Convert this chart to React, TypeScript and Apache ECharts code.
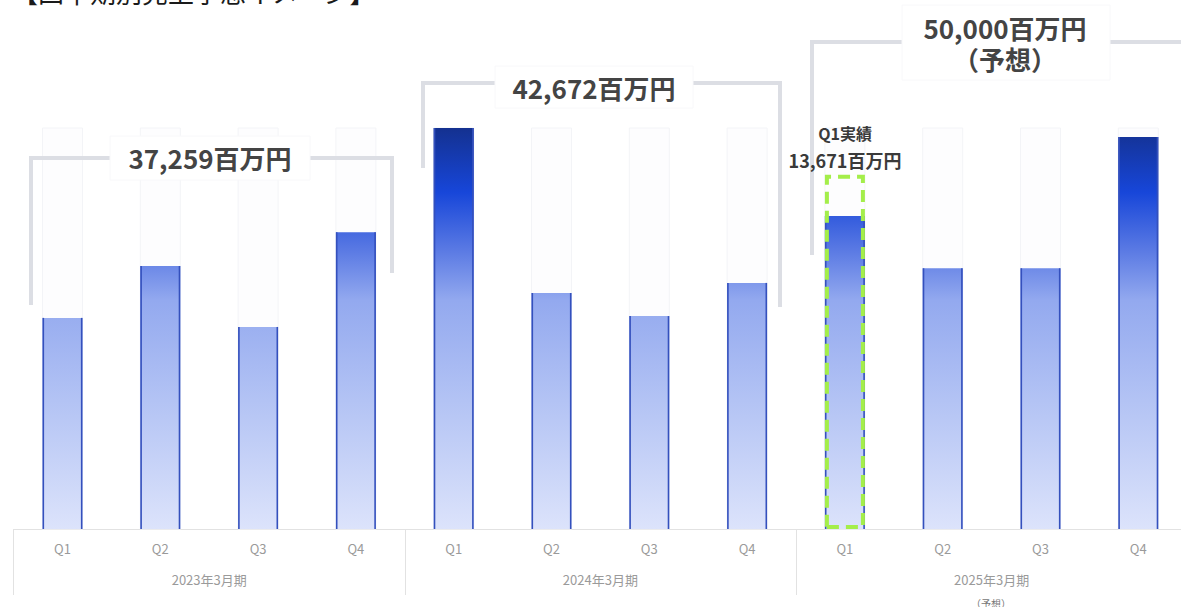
import React, { useEffect, useRef } from "react";
import * as echarts from "echarts";

const quarters = ["Q1", "Q2", "Q3", "Q4"];
const periods = ["2023年3月期", "2024年3月期", "2025年3月期"];
const sales2023 = [8150, 10150, 7800, 11460];
const sales2024 = [15480, 9110, 8220, 9500];
const forecast2025 = [12080, 10070, 10070, 15130];
const q1Actual2025 = 13671;
const annualTotals = ["37,259百万円", "42,672百万円", "50,000百万円"];
const forecastNote = "（予想）";
const actualLabel = ["Q1実績", "13,671百万円"];
const titleText = "【四半期別売上予想イメージ】";

const FONT = "'Noto Sans CJK JP', 'Noto Sans', sans-serif";

export default function App() {
  const ref = useRef<HTMLDivElement>(null);

  useEffect(() => {
    const chart = echarts.init(ref.current!, null, { renderer: "svg" });
    const categories = [...quarters, ...quarters, ...quarters];
    const values = [...sales2023, ...sales2024, ...forecast2025];
    const actual = values.map((_, i) => (i === 8 ? q1Actual2025 : null));
    const yMax = Math.max(...values);
    const barW = 40;

    const gridTop = 128;
    const gridBottomPx = 529;
    const gradient = new echarts.graphic.LinearGradient(
      0,
      gridTop,
      0,
      gridBottomPx,
      [
        { offset: 0, color: "#143190" },
        { offset: 0.16, color: "#1746d9" },
        { offset: 0.3, color: "#5878e3" },
        { offset: 0.43, color: "#93a9ef" },
        { offset: 0.68, color: "#b3c3f4" },
        { offset: 1, color: "#dce3fb" },
      ],
      true
    );

    const bracketStyle = { stroke: "#dcdee4", lineWidth: 4, fill: null as any };
    const boxStyle = { fill: "#ffffff", stroke: "#f8f8fa", lineWidth: 1 };
    const bigText = (text: string, x: number, y: number) => ({
      type: "text",
      x,
      y,
      style: {
        text,
        fontFamily: FONT,
        fontSize: 26,
        fontWeight: "bold",
        fill: "#444444",
        align: "center",
        verticalAlign: "middle",
      },
      z: 20,
    });

    chart.setOption({
      animation: false,
      backgroundColor: "#ffffff",
      textStyle: { fontFamily: FONT },
      grid: {
        left: 13.6,
        top: gridTop,
        width: 1173.6,
        bottom: 607 - gridBottomPx,
        containLabel: false,
        outerBoundsMode: "none",
      },
      xAxis: [
        {
          type: "category",
          data: categories,
          boundaryGap: true,
          axisLine: { show: true, lineStyle: { color: "#e2e2e2", width: 1 } },
          axisTick: { show: false },
          axisLabel: { color: "#9a9a9a", fontSize: 13, margin: 13, fontFamily: FONT },
          splitLine: { show: false },
        },
        {
          type: "category",
          data: periods,
          position: "bottom",
          boundaryGap: true,
          axisLine: { show: false },
          axisTick: { show: true, length: 66, lineStyle: { color: "#e2e2e2", width: 1 } },
          axisLabel: { color: "#9a9a9a", fontSize: 13, margin: 44, fontFamily: FONT },
          splitLine: { show: false },
        },
      ],
      yAxis: { type: "value", min: 0, max: yMax, show: false, splitLine: { show: false } },
      series: [
        {
          type: "bar",
          data: values,
          barWidth: barW,
          xAxisIndex: 0,
          showBackground: true,
          backgroundStyle: { color: "#fdfdfe", borderColor: "#f3f4f7", borderWidth: 1 },
          itemStyle: { color: gradient, borderWidth: 0 },
          z: 2,
        },
        {
          type: "bar",
          data: actual,
          barWidth: barW,
          barGap: "-100%",
          xAxisIndex: 0,
          itemStyle: {
            color: "rgba(0,0,0,0)",
            borderColor: "#a4ee4a",
            borderWidth: 4,
            borderType: [12, 7],
          },
          z: 4,
        },
        {
          type: "custom",
          xAxisIndex: 0,
          data: values.map((v, i) => [i, v]),
          renderItem: (_params: any, api: any) => {
            const top = api.coord([api.value(0), api.value(1)]);
            const base = api.coord([api.value(0), 0]);
            const half = barW / 2;
            const st = { stroke: "#3450bd", lineWidth: 1.6 };
            return {
              type: "group",
              children: [
                { type: "line", shape: { x1: top[0] - half + 0.8, y1: top[1], x2: top[0] - half + 0.8, y2: base[1] }, style: st },
                { type: "line", shape: { x1: top[0] + half - 0.8, y1: top[1], x2: top[0] + half - 0.8, y2: base[1] }, style: st },
              ],
            };
          },
          z: 3,
        },
      ],
      graphic: [
        {
          type: "text",
          x: 12,
          y: -9,
          style: {
            text: titleText,
            fontFamily: FONT,
            fontSize: 26,
            fontWeight: "normal",
            fill: "#1a1a1a",
            align: "left",
            verticalAlign: "middle",
          },
        },
        // 2023 bracket
        { type: "polyline", shape: { points: [[31, 305], [31, 158], [110, 158]] }, style: bracketStyle, z: 5 },
        { type: "polyline", shape: { points: [[310, 158], [392, 158], [392, 273]] }, style: bracketStyle, z: 5 },
        { type: "rect", shape: { x: 110, y: 136, width: 200, height: 44 }, style: boxStyle, z: 6 },
        bigText(annualTotals[0], 210, 157),
        // 2024 bracket
        { type: "polyline", shape: { points: [[423, 168], [423, 83], [495, 83]] }, style: bracketStyle, z: 5 },
        { type: "polyline", shape: { points: [[693, 83], [780, 83], [780, 307]] }, style: bracketStyle, z: 5 },
        { type: "rect", shape: { x: 495, y: 66, width: 198, height: 42 }, style: boxStyle, z: 6 },
        bigText(annualTotals[1], 594, 87),
        // 2025 bracket
        { type: "polyline", shape: { points: [[812, 255], [812, 42], [902, 42]] }, style: bracketStyle, z: 5 },
        { type: "polyline", shape: { points: [[1110, 42], [1185, 42]] }, style: bracketStyle, z: 5 },
        { type: "rect", shape: { x: 902, y: 5, width: 208, height: 75 }, style: boxStyle, z: 6 },
        bigText(annualTotals[2], 1005, 27),
        bigText(forecastNote, 1005, 58),
        // Q1 actual label
        {
          type: "text",
          x: 845,
          y: 133,
          style: {
            text: actualLabel[0],
            fontFamily: FONT,
            fontSize: 16,
            fontWeight: "bold",
            fill: "#3a3a3a",
            align: "center",
            verticalAlign: "middle",
          },
          z: 20,
        },
        {
          type: "text",
          x: 845,
          y: 160,
          style: {
            text: actualLabel[1],
            fontFamily: FONT,
            fontSize: 18,
            fontWeight: "bold",
            fill: "#3a3a3a",
            align: "center",
            verticalAlign: "middle",
          },
          z: 20,
        },
        // (予想) under 2025 axis label
        {
          type: "text",
          x: 991,
          y: 603,
          style: {
            text: forecastNote,
            fontFamily: FONT,
            fontSize: 10,
            fill: "#777777",
            align: "center",
            verticalAlign: "middle",
          },
          z: 20,
        },
      ],
    });

    return () => chart.dispose();
  }, []);

  return (
    <div
      ref={ref}
      style={{ position: "fixed", left: 0, top: 0, width: 1181, height: 607, overflow: "hidden" }}
    />
  );
}
